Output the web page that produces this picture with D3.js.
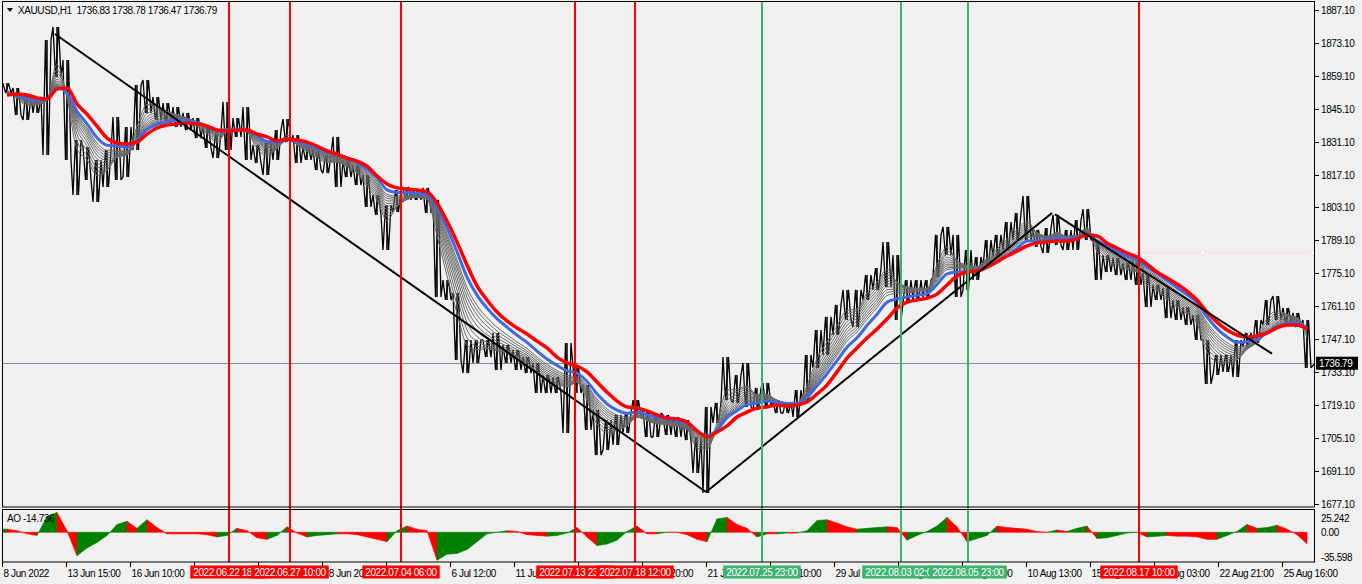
<!DOCTYPE html>
<html><head><meta charset="utf-8">
<script src="https://cdn.jsdelivr.net/npm/d3@7"></script>
<style>
html,body{margin:0;padding:0;background:#f0f0f0;overflow:hidden}
text{font-family:"Liberation Sans",Arial,sans-serif;font-size:10px;letter-spacing:-0.4px;fill:#000;white-space:pre}
</style></head><body>
<svg id="c" width="1362" height="584"></svg>
<script>
// ---------- DATA (XAUUSD H1, one entry per 10 hourly bars) ----------
const symbol = "XAUUSD,H1";
const lastBar = [1736.83, 1738.78, 1736.47, 1736.79]; // O H L C
const barsPerStep = 10;
const totalBars = 1313;

const high = [1856.0,1853.9,1850.9,1850.1,1874.3,1879.9,1865.8,1831.8,1828.8,1823.3,
 1827.5,1841.6,1837.3,1855.2,1857.3,1850.1,1847.5,1845.8,1843.3,1841.1,
 1838.2,1834.8,1848.0,1841.1,1845.8,1829.7,1830.5,1836.0,1840.7,1833.9,
 1828.8,1827.5,1825.4,1833.1,1823.3,1821.1,1816.9,1808.4,1804.1,1810.5,
 1811.8,1810.9,1811.4,1806.3,1772.2,1766.7,1746.7,1746.7,1746.7,1749.7,
 1744.6,1742.4,1739.4,1736.9,1731.8,1730.9,1745.4,1735.2,1727.5,1716.9,
 1712.6,1714.8,1715.6,1721.1,1716.9,1715.6,1714.8,1713.9,1712.6,1705.4,
 1718.2,1719.9,1739.4,1731.8,1736.9,1726.3,1728.4,1721.1,1720.3,1725.4,
 1740.3,1750.9,1756.5,1761.6,1768.0,1768.0,1774.3,1777.3,1788.4,1782.8,
 1772.2,1772.2,1772.2,1791.4,1794.8,1791.4,1785.0,1782.0,1789.2,1791.4,
 1796.9,1800.7,1808.0,1793.5,1794.3,1799.9,1793.5,1797.7,1802.4,1789.2,
 1782.8,1781.6,1779.4,1780.7,1775.2,1770.1,1768.8,1763.7,1760.7,1757.3,
 1746.7,1740.3,1740.3,1746.7,1749.7,1755.2,1763.7,1765.4,1760.3,1758.2,
 1755.2];
const low = [1851.8,1842.4,1840.3,1843.3,1825.4,1858.6,1823.3,1808.4,1814.8,1805.4,
 1811.8,1814.8,1816.0,1827.5,1843.3,1840.3,1839.0,1837.3,1836.0,1832.6,
 1828.4,1824.1,1827.5,1833.1,1823.3,1822.0,1816.9,1823.3,1830.9,1822.0,
 1823.3,1819.0,1817.7,1811.8,1816.0,1812.6,1803.3,1799.9,1785.0,1801.1,
 1806.3,1806.3,1800.7,1765.0,1763.7,1738.2,1732.6,1736.9,1739.4,1733.9,
 1736.9,1733.9,1732.6,1724.1,1724.1,1724.1,1707.1,1724.1,1708.4,1697.7,
 1699.9,1702.0,1707.1,1713.9,1705.4,1705.4,1706.3,1705.4,1704.1,1690.1,
 1681.6,1711.4,1721.1,1719.9,1718.2,1716.9,1718.2,1715.6,1715.6,1713.9,
 1719.9,1734.8,1740.3,1748.8,1755.2,1752.2,1763.7,1768.0,1769.2,1755.2,
 1762.4,1763.7,1765.0,1773.5,1782.8,1765.0,1768.0,1772.2,1777.7,1782.0,
 1785.0,1789.2,1789.2,1786.3,1783.7,1787.1,1785.0,1785.0,1789.2,1772.2,
 1775.6,1774.3,1772.2,1770.1,1760.7,1763.7,1756.0,1755.2,1753.1,1746.7,
 1728.0,1731.8,1733.1,1730.9,1743.7,1745.4,1753.1,1755.2,1753.9,1752.2,
 1734.8];
// slow moving average (red)
const maSlow = [1850.9,1851.4,1850.9,1849.7,1849.2,1853.5,1853.9,1847.1,1842.8,1837.7,
 1832.6,1830.5,1830.1,1830.9,1834.3,1836.9,1838.2,1838.6,1839.0,1838.6,
 1837.7,1836.0,1835.6,1836.0,1836.0,1834.3,1833.1,1831.4,1832.2,1831.8,
 1830.9,1829.2,1827.1,1825.8,1824.1,1822.8,1820.7,1816.5,1813.1,1811.4,
 1810.9,1810.5,1809.7,1805.0,1797.3,1788.4,1778.6,1769.7,1763.7,1758.6,
 1754.8,1751.8,1749.2,1746.2,1743.3,1739.4,1736.9,1735.6,1733.1,1728.8,
 1724.5,1720.7,1718.2,1717.7,1716.5,1714.8,1713.5,1713.1,1711.8,1708.0,
 1705.4,1707.5,1710.1,1713.9,1716.0,1717.7,1718.2,1719.0,1718.6,1719.0,
 1720.3,1723.7,1727.5,1733.1,1739.0,1743.3,1747.5,1751.4,1755.6,1760.3,
 1762.8,1763.7,1764.5,1766.2,1770.1,1773.9,1775.6,1776.0,1777.7,1779.9,
 1782.4,1784.5,1786.7,1788.0,1788.4,1788.8,1788.8,1789.7,1791.4,1790.9,
 1788.0,1785.8,1783.7,1782.0,1779.0,1775.6,1773.1,1770.5,1767.5,1763.7,
 1758.6,1754.3,1750.9,1748.8,1748.0,1748.4,1749.7,1751.8,1753.1,1753.1,
 1751.4];
// Awesome Oscillator values
const ao = [4,2,-2,-4,20,25.2,2,-30,-20,-13,
 -4,10,14,5,16,6,-2,-2,-2,-2,
 -3,-6,-4,5,2,-7,-9,-4,7,-1,
 -6,-4,-3,-2,-2,-3,-6,-9,-12,2,
 8,4,2,-35.6,-28,-27,-22,-12,-2,0,
 2,1,-3,-4,-5,-4,-1,6,-6,-17,
 -15,-10,1,8,-2,-2,0,0,-3,-9,
 -12,17,19,10,5,-6,-2,-2,-1,-1,
 2,15,16,12,7,4,5,6,7,6,
 -10,-4,1,8,19,7,-12,-8,-4,8,
 6,5,4,1,0,3,1,5,8,-8,
 -7,-4,-1,0,-6,-5,-4,-5,-5,-6,
 -9,-9,-4,1,10,5,6,9,4,-3,
 -14.736];
// ribbon EMA periods (in hourly bars)
const ribbonPeriods = [15,20,25,30,35,40,45,50,55,60];
const bluePeriod = 72;

const priceTicks = [1887.10,1873.10,1859.10,1845.10,1831.10,1817.10,1803.10,1789.10,1775.10,1761.10,1747.10,1733.10,1719.10,1705.10,1691.10,1677.10];
const aoTicks = [25.242, 0, -35.598];
const timeLabels = ["8 Jun 2022","13 Jun 15:00","16 Jun 10:00","21 Jun 05:00","24 Jun 01:00","28 Jun 20:00","1 Jul 14:00","6 Jul 12:00","11 Jul 07:00","14 Jul 02:00","18 Jul 20:00","21 Jul 15:00","26 Jul 10:00","29 Jul 05:00","2 Aug 23:00","5 Aug 18:00","10 Aug 13:00","15 Aug 08:00","18 Aug 03:00","22 Aug 21:00","25 Aug 16:00"];
const timeLabelBars = [0,64,128,192,256,320,384,448,512,576,640,704,768,832,896,960,1024,1088,1152,1216,1280];
const eventBars = [227,288,399,573,633,760,899,966,1137];
const eventLabels = ["2022.06.22 18:00","2022.06.27 10:00","2022.07.04 06:00","2022.07.13 23:00","2022.07.18 12:00","2022.07.25 23:00","2022.08.03 02:00","2022.08.05 23:00","2022.08.17 10:00"];
const eventKinds = ["sell","sell","sell","sell","sell","buy","buy","buy","sell"];
const trendFromBar = [53,704,1053];
const trendFromPrice = [1876.9,1682.0,1800.1];
const trendToBar = [704,1050,1270];
const trendToPrice = [1682.0,1800.7,1740.9];
const hLinePrice = 1783.8, hLineBars = [1091,1201,1311];

// ---------- LAYOUT ----------
const L = 2, R = 1315, T = 2, B = 507, ST = 510, SB = 562;
const svg = d3.select("#c");
svg.append("rect").attr("width",1362).attr("height",584).attr("fill","#f0f0f0");

const x = d3.scaleLinear().domain([0, totalBars]).range([L, R]);
const y = d3.scaleLinear().domain([1677.1, 1887.1]).range([503.5, 10]);
const ya = d3.scaleLinear().domain([-35.598, 25.242]).range([560.2, 512.5]);
const cx = i => x(i*barsPerStep + barsPerStep/2);

const defs = svg.append("defs");
defs.append("clipPath").attr("id","cm").append("rect").attr("x",L).attr("y",T).attr("width",R-L).attr("height",B-T);
defs.append("clipPath").attr("id","cs").append("rect").attr("x",L).attr("y",ST).attr("width",R-L).attr("height",SB-ST);

const main = svg.append("g").attr("clip-path","url(#cm)");
const sub = svg.append("g").attr("clip-path","url(#cs)");

// current price line
const lastClose = lastBar[3];
main.append("line").attr("x1",L).attr("x2",R).attr("y1",Math.round(y(lastClose))+0.5).attr("y2",Math.round(y(lastClose))+0.5)
  .attr("stroke","#8090a0").attr("stroke-width",1);

// faint selected horizontal line
main.append("line").attr("x1",x(hLineBars[0])).attr("x2",R).attr("y1",y(hLinePrice)).attr("y2",y(hLinePrice))
  .attr("stroke","#ffdede").attr("stroke-width",1);
main.selectAll("rect.hs").data(hLineBars).join("rect").attr("class","hs")
  .attr("x",d=>x(d)-2).attr("y",y(hLinePrice)-2).attr("width",4).attr("height",4)
  .attr("fill","#fff").attr("stroke","#ffdede");

// price bars: high/low range of each step drawn as hourly-bar strokes
const idx = d3.range(high.length);
const mid = idx.map(i => (high[i]+low[i])/2);
const pts = [];
idx.forEach(i=>{
  const rising = i < idx.length-1 ? mid[i+1] >= mid[i] : false;
  const a = rising ? low[i] : high[i], b = rising ? high[i] : low[i];
  pts.push([cx(i)-4, a], [cx(i)-1.5, b], [cx(i)+1.5, a], [cx(i)+4, b]);
});
pts.push([R, lastClose]);
main.append("path").datum(pts)
  .attr("d", d3.line().x(d=>d[0]).y(d=>y(d[1])))
  .attr("fill","none").attr("stroke","#000").attr("stroke-width",1.3).attr("stroke-linejoin","bevel");
main.selectAll("line.bar").data(idx).join("line").attr("class","bar")
  .attr("x1",i=>cx(i)).attr("x2",i=>cx(i)).attr("y1",i=>y(high[i])).attr("y2",i=>y(low[i]))
  .attr("stroke","#000").attr("stroke-width",1.5);

// ribbon EMAs computed from the bars' median price
function ema(period){
  const a = 1 - Math.pow(1 - 2/(period+1), barsPerStep);
  const out = []; let e = maSlow[0];
  mid.forEach(m=>{ e = e + a*(m-e); out.push(e); });
  return out;
}
const line = d3.line().x((d,i)=>cx(i)).y(d=>y(d)).curve(d3.curveMonotoneX);
ribbonPeriods.forEach(p=>{
  main.append("path").datum(ema(p)).attr("d",line).attr("fill","none").attr("stroke","#6a6a6a").attr("stroke-width",1);
});
main.append("path").datum(ema(bluePeriod)).attr("d",line).attr("fill","none").attr("stroke","#4169e1").attr("stroke-width",3);
main.append("path").datum(maSlow).attr("d",line).attr("fill","none").attr("stroke","#ff0000").attr("stroke-width",3.5);

// trend lines
main.selectAll("line.tr").data(trendFromBar).join("line").attr("class","tr")
  .attr("x1",(d,i)=>x(trendFromBar[i])).attr("y1",(d,i)=>y(trendFromPrice[i]))
  .attr("x2",(d,i)=>x(trendToBar[i])).attr("y2",(d,i)=>y(trendToPrice[i]))
  .attr("stroke","#000").attr("stroke-width",2);

// AO histogram
const aoArea = d3.area().x(d=>d[0]).y0(ya(0)).y1(d=>ya(d[1]));
for(let i=0;i<ao.length;i++){
  const x0 = i===0 ? L : cx(i-1), v0 = i===0 ? ao[0] : ao[i-1];
  const up = i===0 ? true : ao[i] > ao[i-1];
  sub.append("path").attr("d", aoArea([[x0,v0],[cx(i),ao[i]]]))
    .attr("fill", up ? "#008000" : "#ff0000").attr("stroke", up ? "#008000" : "#ff0000").attr("stroke-width",0.6);
}

// vertical event lines (both panes)
const evColor = k => k==="buy" ? "#3cb371" : "#ff0000";
svg.selectAll("line.ev").data(eventBars).join("line").attr("class","ev")
  .attr("x1",d=>x(d)).attr("x2",d=>x(d)).attr("y1",T).attr("y2",SB)
  .attr("stroke",(d,i)=>evColor(eventKinds[i])).attr("stroke-width",2);

// frames
svg.append("rect").attr("x",L+0.5).attr("y",1.5).attr("width",R-L-1).attr("height",B-1.5).attr("fill","none").attr("stroke","#000");
svg.append("rect").attr("x",L+0.5).attr("y",ST-0.5).attr("width",R-L-1).attr("height",SB-ST+0.5).attr("fill","none").attr("stroke","#000");

// title
svg.append("path").attr("d","M7,8 L13,8 L10,12 Z").attr("fill","#000");
svg.append("text").attr("x",18).attr("y",14).text(symbol + "  " + lastBar.map(d3.format(".2f")).join(" "));
svg.append("text").attr("x",7).attr("y",522).text("AO " + d3.format(".3f")(ao[ao.length-1]).replace("\u2212","-"));

// price axis
const pa = svg.append("g");
priceTicks.forEach(p=>{
  const yy = Math.round(y(p))+0.5;
  pa.append("line").attr("x1",R).attr("x2",R+4).attr("y1",yy).attr("y2",yy).attr("stroke","#000");
  pa.append("text").attr("x",R+6).attr("y",yy+3.5).text(d3.format(".2f")(p));
});
aoTicks.forEach(v=>{
  const yy = Math.max(518, Math.min(557, ya(v)));
  pa.append("text").attr("x",R+6).attr("y",yy+3.5).text(v===0 ? "0.00" : d3.format(".3f")(v).replace("\u2212","-"));
});
// current price label
pa.append("rect").attr("x",R+1).attr("y",y(lastClose)-6.5).attr("width",42).attr("height",13).attr("fill","#000");
pa.append("text").attr("x",R+4).attr("y",y(lastClose)+3.5).style("fill","#fff").text(d3.format(".2f")(lastClose));

// time axis
const ta = svg.append("g");
timeLabelBars.forEach((b,i)=>{
  const xx = Math.round(x(b))+0.5;
  ta.append("line").attr("x1",xx).attr("x2",xx).attr("y1",SB).attr("y2",SB+5).attr("stroke","#000");
  ta.append("text").attr("x",xx+1).attr("y",577).text(timeLabels[i]);
});
eventBars.forEach((b,i)=>{
  const g = ta.append("g");
  const t = g.append("text").attr("x",x(b)).attr("y",576).attr("text-anchor","middle").style("fill","#fff").text(eventLabels[i]);
  const w = t.node().getComputedTextLength() + 6;
  g.insert("rect","text").attr("x",x(b)-w/2).attr("y",565.5).attr("width",w).attr("height",13).attr("fill",evColor(eventKinds[i]));
});
</script>
</body></html>
